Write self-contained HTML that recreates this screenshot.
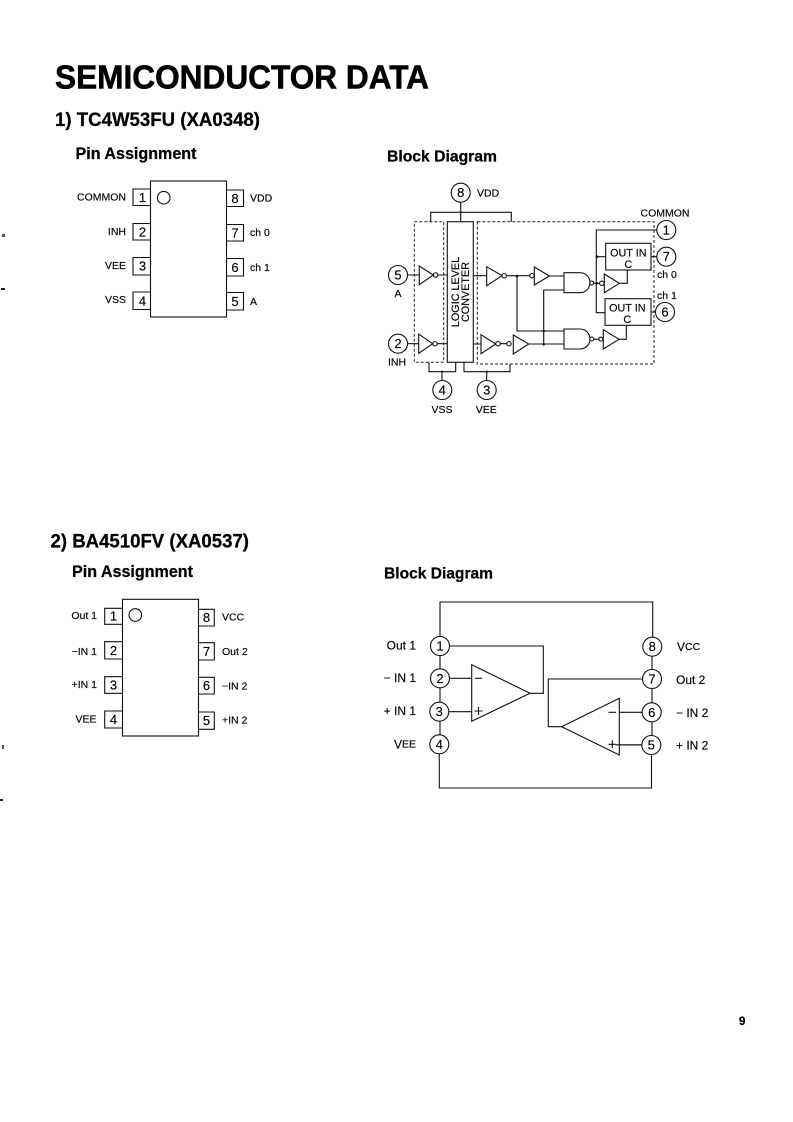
<!DOCTYPE html>
<html><head><meta charset="utf-8"><style>
html,body{margin:0;padding:0;background:#fff}
svg{display:block}
text{font-family:"Liberation Sans",sans-serif;fill:#000}
.h{font-weight:bold;stroke:#000;stroke-width:.25}
.l{font-size:10.5px;dominant-baseline:central;stroke:#000;stroke-width:.15}
.n{font-size:13px;text-anchor:middle;dominant-baseline:central;stroke:#000;stroke-width:.15}
.e{text-anchor:end}
.m{text-anchor:middle}
.s{fill:none;stroke:#111;stroke-width:1.1}
.w{fill:#fff;stroke:#111;stroke-width:1.1}
.d{fill:none;stroke:#222;stroke-width:1;stroke-dasharray:3 2}
.t{font-size:10.8px;stroke:#000;stroke-width:.15}
</style></head><body>
<svg width="793" height="1122" viewBox="0 0 793 1122" xmlns="http://www.w3.org/2000/svg">
<rect width="793" height="1122" fill="#fff"/>
<rect x="2" y="234" width="3" height="3" fill="#555"/><rect x="1" y="288" width="4" height="2" fill="#222"/>
<rect x="2" y="745" width="2" height="4" fill="#555"/><rect x="0" y="799" width="3" height="2" fill="#222"/>

<text class="h" style="stroke-width:.6" x="55" y="88.3" font-size="33" textLength="374" lengthAdjust="spacingAndGlyphs">SEMICONDUCTOR DATA</text>
<text class="h" x="55" y="126" font-size="19" textLength="205" lengthAdjust="spacingAndGlyphs">1) TC4W53FU (XA0348)</text>
<text class="h" x="75.5" y="159" font-size="16.5" textLength="121" lengthAdjust="spacingAndGlyphs">Pin Assignment</text>
<text class="h" x="387" y="161.5" font-size="16" textLength="110" lengthAdjust="spacingAndGlyphs">Block Diagram</text>
<text class="h" x="50.5" y="547.5" font-size="19" textLength="198.5" lengthAdjust="spacingAndGlyphs">2) BA4510FV (XA0537)</text>
<text class="h" x="72" y="577" font-size="16.5" textLength="121" lengthAdjust="spacingAndGlyphs">Pin Assignment</text>
<text class="h" x="384" y="578.5" font-size="16" textLength="109" lengthAdjust="spacingAndGlyphs">Block Diagram</text>
<text class="h" x="739" y="1025" font-size="11.5">9</text>

<!-- Pin assignment 1 -->
<rect class="s" x="150.5" y="181" width="76" height="136"/>
<circle class="s" cx="163.7" cy="197.7" r="6.3"/>
<path class="s" d="M150.5 189H133V205.5H150.5M150.5 223.5H133V240H150.5M150.5 257.5H133V275H150.5M150.5 292H133V309.5H150.5"/>
<path class="s" d="M226.5 190H243.5V206.5H226.5M226.5 224.5H243.5V241H226.5M226.5 258.5H243.5V276H226.5M226.5 292.5H243.5V310H226.5"/>
<text class="n" x="142.5" y="197.5">1</text><text class="n" x="142.5" y="232">2</text><text class="n" x="142.5" y="266">3</text><text class="n" x="142.5" y="301">4</text>
<text class="n" x="235" y="198.5">8</text><text class="n" x="235" y="233">7</text><text class="n" x="235" y="267.5">6</text><text class="n" x="235" y="301.5">5</text>
<text class="l e" x="126" y="197.5">COMMON</text><text class="l e" x="126" y="232">INH</text><text class="l e" x="126" y="266">VEE</text><text class="l e" x="126" y="300">VSS</text>
<text class="l" x="250" y="198.5">VDD</text><text class="l" x="250" y="233">ch 0</text><text class="l" x="250" y="268">ch 1</text><text class="l" x="250" y="302">A</text>

<!-- Block diagram 1 -->
<path class="s" d="M430.7 222V212.3H511.3V222M460.7 202V222"/>
<rect class="d" x="414.3" y="221.7" width="29.4" height="140.6"/>
<rect class="d" x="477.3" y="221.7" width="176.7" height="142.3"/>
<rect class="w" x="447.3" y="221.7" width="26" height="140.6"/>
<text class="t" text-anchor="middle" transform="translate(456 292) rotate(-90)" dominant-baseline="central">LOGIC LEVEL</text>
<text class="t" text-anchor="middle" transform="translate(466 292) rotate(-90)" dominant-baseline="central">CONVETER</text>
<path class="s" d="M407.5 275H419.3M438 275H447.3M407.5 343.7H418.7M437.3 343.7H447.3"/>
<path class="s" d="M473.3 275.7H486.7M506.3 275.7H530M549.3 276H564M473.3 344H481M500.3 343.7H506.7M528.7 344H564"/>
<path class="s" d="M517 275.7V331H564M543.7 344V290H564"/>
<path class="s" d="M590 283.3H604.3M590 339.2H603.3"/>
<path class="s" d="M619.3 283.3H627.3V270M619 339.3H626.3V325.3"/>
<path class="s" d="M657 230H596.3V312.7H605M597 256.7H605.7"/>
<path class="s" d="M651 256.7H657M651 312H655.5"/>
<path class="s" d="M429 362.5V371.7H455.7V362.5M442 371.7V380.5M464 362.5V371.7H510V364M486.7 371.7V380.5"/>
<polygon class="w" points="419.3,266 419.3,284.7 433.3,275"/><circle class="w" cx="435.6" cy="275" r="2.2"/>
<polygon class="w" points="418.7,334 418.7,353.3 432.7,343.7"/><circle class="w" cx="435" cy="343.7" r="2.2"/>
<polygon class="w" points="486.7,266.7 486.7,285.7 502,275.7"/><circle class="w" cx="504.2" cy="275.7" r="2.2"/>
<polygon class="w" points="534.3,267 534.3,285 549.3,276"/><circle class="w" cx="532" cy="275.7" r="2.2"/>
<polygon class="w" points="481,334.7 481,353.7 495.7,344"/><circle class="w" cx="498" cy="343.7" r="2.2"/>
<polygon class="w" points="513.3,335 513.3,354 528.7,344"/><circle class="w" cx="508.9" cy="343.7" r="2.2"/>
<polygon class="w" points="604.3,274 604.3,292.7 619.3,283.3"/><circle class="w" cx="601.8" cy="283.3" r="2.2"/>
<polygon class="w" points="603.3,329.7 603.3,349 619,339.3"/>
<path class="w" d="M564 272.7H580A10 10 0 0 1 580 292.7H564Z"/><circle class="w" cx="591.8" cy="283" r="2"/>
<path class="w" d="M564 329H580A10 10 0 0 1 580 349H564Z"/><circle class="w" cx="591.8" cy="339" r="2"/><circle class="w" cx="600.8" cy="339.2" r="2"/>
<g fill="#111"><circle cx="517" cy="276" r="1.3"/><circle cx="543.7" cy="331" r="1.3"/><circle cx="543.7" cy="344.2" r="1.3"/><circle cx="597" cy="256.7" r="1.3"/><circle cx="596.6" cy="283.3" r="1.3"/><circle cx="460.7" cy="212.3" r="1.2"/><circle cx="442" cy="371.7" r="1.2"/><circle cx="486.7" cy="371.7" r="1.2"/></g>
<rect class="w" x="605.7" y="243.3" width="45.3" height="26.7"/><rect class="w" x="605" y="298.7" width="46" height="26.6"/>
<text class="t m" x="628.3" y="256.7">OUT IN</text><text class="t m" x="628.3" y="268">C</text>
<text class="t m" x="627.3" y="311.3">OUT IN</text><text class="t m" x="627.3" y="323">C</text>
<circle class="w" cx="460.7" cy="192.7" r="9.5"/><text class="n" x="460.7" y="192.7">8</text>
<circle class="w" cx="398" cy="275" r="9.5"/><text class="n" x="398" y="275">5</text>
<circle class="w" cx="398" cy="343.7" r="9.5"/><text class="n" x="398" y="343.7">2</text>
<circle class="w" cx="666.3" cy="230" r="9.5"/><text class="n" x="666.3" y="230">1</text>
<circle class="w" cx="666.3" cy="256.7" r="9.5"/><text class="n" x="666.3" y="256.7">7</text>
<circle class="w" cx="665" cy="312" r="9.5"/><text class="n" x="665" y="312">6</text>
<circle class="w" cx="442.3" cy="390" r="9.5"/><text class="n" x="442.3" y="390">4</text>
<circle class="w" cx="486.7" cy="390" r="9.5"/><text class="n" x="486.7" y="390">3</text>
<text class="l" x="477" y="193.5">VDD</text><text class="l m" x="665" y="213.3">COMMON</text>
<text class="l m" x="398" y="294">A</text><text class="l m" x="397" y="362.7">INH</text>
<text class="l" x="657" y="275">ch 0</text><text class="l" x="657" y="296">ch 1</text>
<text class="l m" x="442" y="410">VSS</text><text class="l m" x="486.3" y="410">VEE</text>

<!-- Pin assignment 2 -->
<rect class="s" x="122.5" y="599.3" width="76" height="136.7"/>
<circle class="s" cx="135.3" cy="615" r="6.3"/>
<path class="s" d="M122.5 608.3H104.7V624.3H122.5M122.5 641.7H104.7V659H122.5M122.5 676.7H104.7V693.3H122.5M122.5 711H104.7V728H122.5"/>
<path class="s" d="M198.5 609.3H214.3V626H198.5M198.5 642.7H214.3V660H198.5M198.5 677.3H214.3V694H198.5M198.5 712H214.3V729.3H198.5"/>
<text class="n" x="113.5" y="616">1</text><text class="n" x="113.5" y="650.5">2</text><text class="n" x="113.5" y="685">3</text><text class="n" x="113.5" y="719.5">4</text>
<text class="n" x="206.5" y="617.5">8</text><text class="n" x="206.5" y="651.5">7</text><text class="n" x="206.5" y="685.5">6</text><text class="n" x="206.5" y="720.5">5</text>
<text class="l e" x="97" y="616">Out 1</text><text class="l e" x="97" y="652">−IN 1</text><text class="l e" x="97" y="685">+IN 1</text><text class="l e" x="96.5" y="719.5">VEE</text>
<text class="l" x="222" y="617.5">VCC</text><text class="l" x="222" y="652">Out 2</text><text class="l" x="222" y="686.5">−IN 2</text><text class="l" x="222" y="720.5">+IN 2</text>

<!-- Block diagram 2 -->
<path class="s" d="M440 646V602H652.7V647M439.3 744V788H651.5V745M440 646V744M652 647V745"/>
<path class="s" d="M449.7 646H543.3V693.3H530M449 678.3H471.7M449 711.7H471.7M642 679H548.3V726.7H561.7M619.3 712.3H642M619.3 745H642"/>
<polygon class="w" points="471.7,664.7 471.7,721.3 530,693.3"/>
<polygon class="w" points="619.3,698.3 619.3,755 561.7,726.7"/>
<path class="s" d="M475 678.3H482M474.5 711H482.5M478.5 707V715M608.5 712.3H616M608.5 744.3H616M612.3 740.3V748.3M616 744.8H642"/>
<circle class="w" cx="440" cy="646" r="9.5"/><text class="n" x="440" y="646">1</text>
<circle class="w" cx="440" cy="678.3" r="9.5"/><text class="n" x="440" y="678.3">2</text>
<circle class="w" cx="439.3" cy="711.7" r="9.5"/><text class="n" x="439.3" y="711.7">3</text>
<circle class="w" cx="439.3" cy="744.3" r="9.5"/><text class="n" x="439.3" y="744.3">4</text>
<circle class="w" cx="652.3" cy="646.7" r="9.5"/><text class="n" x="652.3" y="646.7">8</text>
<circle class="w" cx="652" cy="679" r="9.5"/><text class="n" x="652" y="679">7</text>
<circle class="w" cx="651.7" cy="712.3" r="9.5"/><text class="n" x="651.7" y="712.3">6</text>
<circle class="w" cx="651.3" cy="745" r="9.5"/><text class="n" x="651.3" y="745">5</text>
<text class="l e" style="font-size:12px" x="416" y="645.5">Out 1</text><text class="l e" style="font-size:12px" x="416" y="678">− IN 1</text><text class="l e" style="font-size:12px" x="416" y="711">+ IN 1</text><text class="l e" style="font-size:12px" x="416" y="744.5">V<tspan font-size="10.5">EE</tspan></text>
<text class="l" style="font-size:12px" x="677" y="647">V<tspan font-size="10.5">CC</tspan></text><text class="l" style="font-size:12px" x="676" y="680">Out 2</text><text class="l" style="font-size:12px" x="676" y="713">− IN 2</text><text class="l" style="font-size:12px" x="676" y="745.5">+ IN 2</text>
</svg>
</body></html>
